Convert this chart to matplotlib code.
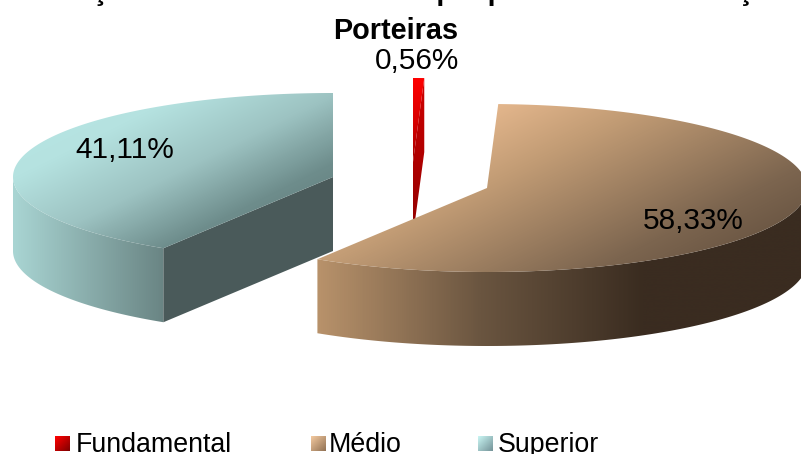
import numpy as np
import matplotlib
matplotlib.use("Agg")
import matplotlib.pyplot as plt
from matplotlib.colors import LinearSegmentedColormap
from matplotlib.patches import Polygon

categories = ["Fundamental", "Médio", "Superior"]
percents = [0.56, 58.33, 41.11]
title_lines = ["Formações docentes do município por nível de formação", "Porteiras"]

# pie geometry, in pixels of the 801x454 picture
RX, RY, DEPTH = 320, 84, 74
apex = [(413, 162), (487, 188), (333, 177)]
label_pos = [(417, 69), (693, 229), (125, 158)]
legend_box = [55, 311, 478]
legend_txt = [76, 329, 498]

top_cols = [["#ff0000", "#d80000", "#a00000"],
            [(0, "#e8ba90"), (0.22, "#e3b68c"), (0.4, "#c29c75"), (0.74, "#7c654f"), (1, "#5a4838")],
            [(0, "#b9e8e6"), (0.27, "#b5e2e0"), (0.51, "#9dc3c2"), (0.73, "#6e8d8c"), (1, "#5a7372")]]
side_cols = [["#d00000", "#900000"],
             ["#b8926b", "#6a5540", "#3a2c20", "#3a2c20"],
             ["#a9d5d3", "#6a8584"]]
face_col = "#4a5a5a"
swatch_cols = [["#ff0000", "#800000"], ["#f2c89e", "#937355"], ["#c8f4f2", "#76959a"]]

plt.rcParams["font.family"] = ["Liberation Sans", "DejaVu Sans"]

fig = plt.figure(figsize=(8.01, 4.54), dpi=100)
ax = fig.add_axes([0, 0, 1, 1])
ax.set_xlim(0, 801)
ax.set_ylim(454, 0)
ax.axis("off")
ax.set_autoscale_on(False)


def grad_fill(pts, colors, direction, zorder):
    pts = np.array(pts)
    x0, y0 = np.floor(pts.min(axis=0))
    x1, y1 = np.ceil(pts.max(axis=0))
    xx, yy = np.meshgrid(np.arange(x0, x1 + 1), np.arange(y0, y1 + 1))
    tt = xx * direction[0] + yy * direction[1]
    cmap = LinearSegmentedColormap.from_list("g", colors)
    im = ax.imshow(tt, cmap=cmap, extent=(x0, x1, y1, y0), aspect="auto",
                   interpolation="bilinear", zorder=zorder)
    patch = Polygon(pts, closed=True, transform=ax.transData, fc="none", ec="none")
    ax.add_patch(patch)
    im.set_clip_path(patch)


def rim(cx, cy, t):
    t = np.radians(t)
    return np.column_stack([cx + RX * np.sin(t), cy - RY * np.cos(t)])


bounds = np.concatenate([[0], np.cumsum(percents) * 3.6])
bounds[-1] = 360
for ii in range(3):
    cx, cy = apex[ii]
    t0, t1 = bounds[ii], bounds[ii + 1]
    z = 1 + ii * 3
    arc = rim(cx, cy, np.linspace(t0, t1, 200))
    top = np.vstack([[(cx, cy)], arc])

    # outer wall, only the part that faces the viewer
    a, b = max(t0, 90), min(t1, 270)
    if b > a:
        edge = rim(cx, cy, np.linspace(a, b, 200))
        wall = np.vstack([edge, (edge + [0, DEPTH])[::-1]])
        grad_fill(wall, side_cols[ii], (1, 0), z)

    # cut faces
    if ii == 2:
        p = rim(cx, cy, [t0])[0]
        ax.fill([cx, p[0], p[0], cx], [cy, p[1], p[1] + DEPTH, cy + DEPTH],
                color=face_col, lw=0, zorder=z + 1)
    if ii == 0:
        p = rim(cx, cy, [t1])[0]
        grad_fill([(cx, cy), p, p + [0, DEPTH], (cx, cy + DEPTH)], side_cols[ii], (0, 1), z + 1)

    grad_fill(top, top_cols[ii], (0.45, 0.9) if ii else (0.3, 1), z + 2)

ax.text(396, -0.5, title_lines[0], ha="center", va="baseline", fontsize=20.8,
        fontweight="bold", zorder=20)
ax.text(395.5, 39, title_lines[1], ha="center", va="baseline", fontsize=20.8,
        fontweight="bold", zorder=20)

for ii, pct in enumerate(percents):
    ax.text(label_pos[ii][0], label_pos[ii][1], f"{pct:.2f}%".replace(".", ","),
            ha="center", va="baseline", fontsize=21.4, zorder=20)

for ii, name in enumerate(categories):
    x = legend_box[ii]
    grad_fill([(x, 436), (x + 15, 436), (x + 15, 451), (x, 451)], swatch_cols[ii], (1, 1), 21)
    ax.text(legend_txt[ii], 452, name, ha="left", va="baseline", fontsize=19.3, zorder=21)

fig.savefig("out.png", dpi=100)
